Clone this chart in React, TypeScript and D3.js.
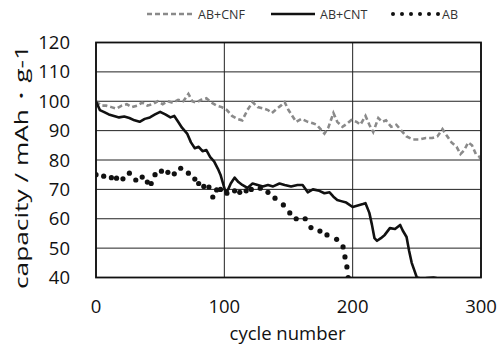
import React from "react";
import * as d3 from "d3";

// AB+CNF (gray dashed)
const cnfCycles = [0, 4, 8, 12, 16, 20, 24, 28, 32, 36, 40, 44, 48, 52, 56, 60, 64, 68, 72, 75, 78, 82, 86, 90, 94, 98, 102, 106, 110, 114, 118, 122, 126, 130, 134, 137, 141, 144, 147, 150, 153, 156, 160, 165, 169, 172, 175, 178, 181, 185, 188, 192, 196, 199, 203, 206, 210, 213, 216, 220, 223, 226, 230, 234, 238, 242, 247, 252, 257, 262, 266, 270, 273, 277, 281, 284, 287, 290, 293, 296, 299, 300];
const cnfValues = [100, 98.5, 98.5, 98, 97.5, 98.5, 99, 98, 98.5, 99.5, 98.5, 99, 100, 99, 100, 99.5, 100.5, 100, 102.5, 100, 99.5, 100.5, 101, 99.5, 98.5, 98, 97, 95, 94, 93.5, 97, 99.7, 98, 97.6, 97, 96, 97.5, 98.5, 99.7, 97, 95, 93, 94, 93, 92.5, 92, 90.5, 89, 91, 96, 93, 91.3, 92.5, 93.6, 93, 92, 95, 92, 89.5, 94.3, 93, 93.5, 91.3, 92, 90, 88, 87, 87, 87.5, 87.5, 88, 90.5, 88.5, 86, 84.5, 82, 83.4, 86, 85, 82, 81, 79];

// AB+CNT (black solid)
const cntCycles = [0, 3, 6, 10, 14, 18, 22, 26, 30, 34, 38, 42, 46, 50, 54, 58, 61, 64, 67, 71, 74, 77, 80, 83, 86, 89, 92, 95, 97, 99, 101, 103, 105, 108, 111, 114, 118, 122, 126, 130, 134, 138, 143, 147, 152, 157, 161, 165, 169, 174, 178, 182, 185, 188, 191, 195, 200, 204, 208, 210, 213, 215, 217, 219, 222, 225, 229, 233, 237, 239, 242, 244, 246, 248, 250, 254, 258, 263, 268];
const cntValues = [100, 97, 96.4, 95.5, 95, 94.5, 94.8, 94.3, 93.5, 93, 94, 94.5, 95.5, 96.4, 95.5, 94.5, 95, 93, 91, 89, 86, 84, 84.5, 83, 83.4, 81, 79.5, 77, 75, 72, 69, 70, 72, 74, 72.5, 71.5, 70.5, 72, 71.5, 71, 71.5, 71, 72, 71.5, 71, 71.5, 71.5, 69, 70, 69.5, 68.7, 69, 67.5, 66.4, 66, 65.5, 64, 64.5, 65, 65.3, 62, 58, 53.4, 52.5, 53.4, 54.5, 56.8, 56.5, 57.9, 56, 53.8, 49, 45, 42.5, 40, 39.6, 39.8, 40, 39.6];

// AB (black dots)
const abCycles = [0, 6, 12, 16, 21, 26, 31, 36, 40, 43, 46, 51, 56, 61, 66, 72, 77, 80, 84, 88, 91, 94, 97, 102, 108, 112, 117, 121, 128, 134, 139.5, 146, 151, 156, 163, 167.5, 174.5, 180, 187.5, 192.5, 194, 195.5, 196.5];
const abValues = [75, 74.5, 74, 73.8, 73.6, 75.5, 73.2, 74.2, 72.5, 72, 75, 76.2, 75.8, 75.3, 77.2, 75.5, 73.5, 72, 71, 70.8, 67.4, 69.8, 70, 68.7, 69.5, 69, 69.5, 70, 70.4, 69, 67, 64.7, 62, 60, 60, 57, 55.8, 54.5, 53, 50.4, 47, 43.6, 40];

const xTicks = [0, 100, 200, 300];
const yTicks = [40, 50, 60, 70, 80, 90, 100, 110, 120];

const W = 501;
const H = 347;
const FONT = "'Open Sans', sans-serif";

export default function App() {
  const left = 96, right = 481, top = 42.5, bottom = 277.5;
  const x = d3.scaleLinear().domain([0, 300]).range([left, right]);
  const y = d3.scaleLinear().domain([40, 120]).range([bottom, top]);

  const line = d3.line<[number, number]>()
    .x((d) => x(d[0]))
    .y((d) => y(d[1]));

  const cnf = cnfCycles.map((c, i) => [c, cnfValues[i]] as [number, number]);
  const cnt = cntCycles.map((c, i) => [c, cntValues[i]] as [number, number]);
  const ab = abCycles.map((c, i) => [c, abValues[i]] as [number, number]);

  return (
    <svg width={W} height={H} style={{ position: "absolute", left: 0, top: 0, background: "#fff" }} fontFamily={FONT}>
      <defs>
        <clipPath id="plot">
          <rect x={left} y={top} width={right - left} height={bottom - top} />
        </clipPath>
      </defs>

      {/* grid */}
      {yTicks.map((t) => (
        <line key={"gy" + t} x1={left} x2={right} y1={y(t)} y2={y(t)} stroke="#222" strokeWidth={1} />
      ))}
      {xTicks.map((t) => (
        <line key={"gx" + t} x1={x(t)} x2={x(t)} y1={top} y2={bottom} stroke="#222" strokeWidth={1} />
      ))}

      <g clipPath="url(#plot)">
        <path d={line(cnf) || ""} fill="none" stroke="#8a8a8a" strokeWidth={2.6} strokeDasharray="5,3" />
        <path d={line(cnt) || ""} fill="none" stroke="#111" strokeWidth={2.6} strokeLinejoin="round" />
        {ab.map((d, i) => (
          <circle key={i} cx={x(d[0])} cy={y(d[1])} r={2.6} fill="#111" />
        ))}
      </g>

      <rect x={left} y={top} width={right - left} height={bottom - top} fill="none" stroke="#111" strokeWidth={1.8} />

      {/* axes */}
      {yTicks.map((t) => (
        <text key={"ty" + t} x={70} y={y(t) + 6.5} textAnchor="end" fontSize={18.5} fill="#111">{t}</text>
      ))}
      {xTicks.map((t) => (
        <text key={"tx" + t} x={x(t)} y={313} textAnchor="middle" fontSize={18.5} fill="#111">{t}</text>
      ))}
      <text x={(left + right) / 2 - 1} y={340} textAnchor="middle" fontSize={18.5} fill="#111">cycle number</text>
      <text transform="translate(28,167) rotate(-90)" textAnchor="middle" fontSize={19} fill="#111"
        textLength={244} lengthAdjust="spacingAndGlyphs">capacity / mAh・g-1</text>

      {/* legend */}
      <line x1={147} x2={193} y1={14} y2={14} stroke="#8a8a8a" strokeWidth={2.4} strokeDasharray="5,3" />
      <text x={198} y={18.5} fontSize={12.5} fill="#333">AB+CNF</text>
      <line x1={271} x2={315} y1={14} y2={14} stroke="#111" strokeWidth={2.6} />
      <text x={320} y={18.5} fontSize={12.5} fill="#333">AB+CNT</text>
      {d3.range(6).map((i) => (
        <circle key={"ld" + i} cx={393 + i * 9} cy={14} r={2} fill="#111" />
      ))}
      <text x={442} y={18.5} fontSize={12.5} fill="#333">AB</text>
    </svg>
  );
}
